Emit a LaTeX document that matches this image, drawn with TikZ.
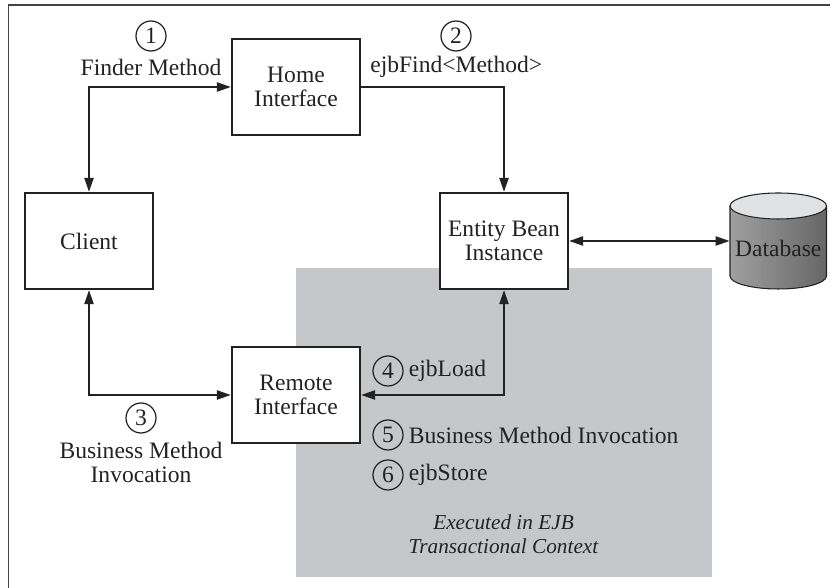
\documentclass[tikz,border=0pt]{standalone}
\usepackage{fontspec}
\setmainfont{Liberation Serif}
\usetikzlibrary{arrows.meta, positioning}
\definecolor{ctxgray}{HTML}{C6C7C9}
\definecolor{inkgray}{HTML}{222222}
\definecolor{dbtop}{HTML}{E0E2E3}
\tikzset{
  labelfont/.style={font=\fontsize{13.4}{13.6}\selectfont},
  box/.style={draw=inkgray, line width=1.2pt, fill=white, minimum width=2.56cm, minimum height=1.92cm, align=center, text=inkgray, labelfont},
  txt/.style={align=center, text=inkgray, inner sep=0pt, labelfont},
  num/.style={draw=inkgray, circle, line width=0.7pt, minimum size=0.6cm, inner sep=0pt, text=inkgray, labelfont},
  link/.style={draw=inkgray, line width=1.2pt, {Triangle[length=0.28cm, width=0.18cm]}-{Triangle[length=0.28cm, width=0.18cm]}},
  oneway/.style={draw=inkgray, line width=1.2pt, -{Triangle[length=0.28cm, width=0.18cm]}}
}
\begin{document}
\begin{tikzpicture}
\useasboundingbox (0,0) rectangle (16.6,11.76);
% Outer frame
\coordinate (framebottom) at (0.17,0);
\coordinate (framecorner) at (0.17,11.66);
\coordinate (frameright) at (16.6,11.66);
\draw[inkgray!85, line width=0.9pt] (framebottom) -- (framecorner) -- (frameright);

% Transactional context
\node[fill=ctxgray, minimum width=8.32cm, minimum height=6.18cm, inner sep=0pt] (context) at (10.08,3.31) {};

% Boxes
\node[box] (home) at (5.92,10.02) {Home\\Interface};
\node[box] (client) at (1.78,6.94) {Client};
\node[box] (entity) at (10.08,6.94) {Entity Bean\\Instance};
\node[box] (remote) at (5.92,3.86) {Remote\\Interface};

% Database
\shade[left color=gray!75, middle color=white, right color=gray!80!black, shading angle=90] (14.6,7.64) -- (14.6,6.24) arc[start angle=180, end angle=360, x radius=0.965cm, y radius=0.26cm] -- (16.53,7.64) -- cycle;
\draw[inkgray, line width=0.6pt] (14.6,7.64) -- (14.6,6.24) arc[start angle=180, end angle=360, x radius=0.965cm, y radius=0.26cm] -- (16.53,7.64);
\draw[inkgray, line width=0.6pt, fill=dbtop] (15.565,7.64) ellipse[x radius=0.965cm, y radius=0.26cm];
\node[inner sep=0pt, minimum width=1.93cm, minimum height=1.92cm] (db) at (15.565,6.94) {};
\node[txt] (dblabel) at (15.565,6.8) {Database};

% Arrows
\draw[link] (client.north) |- (home.west);
\draw[oneway] (home.east) -| (entity.north);
\draw[link] (client.south) |- (remote.west);
\draw[link] (remote.east) -| (entity.south);
\draw[link] (entity.east) -- (db.west);

% Numbered labels
\node[num] (n1) at (3.02,11.04) {1};
\node[txt] (finder) at (3.02,10.42) {Finder Method};
\node[num] (n2) at (9.12,11.04) {2};
\node[txt, anchor=west] (find) at (7.4,10.42) {ejbFind<Method>};
\node[num] (n3) at (2.82,3.4) {3};
\node[txt] (business) at (2.82,2.51) {Business Method\\Invocation};
\node[num] (n4) at (7.76,4.34) {4};
\node[txt, right=0.1cm of n4] (load) {ejbLoad};
\node[num] (n5) at (7.76,3.06) {5};
\node[txt, right=0.1cm of n5] (invoke) {Business Method Invocation};
\node[num] (n6) at (7.76,2.26) {6};
\node[txt, right=0.1cm of n6] (store) {ejbStore};
\node[txt, font=\fontsize{12.1}{13.6}\selectfont\itshape] (exec) at (10.07,1.08) {Executed in EJB\\Transactional Context};
\end{tikzpicture}
\end{document}
